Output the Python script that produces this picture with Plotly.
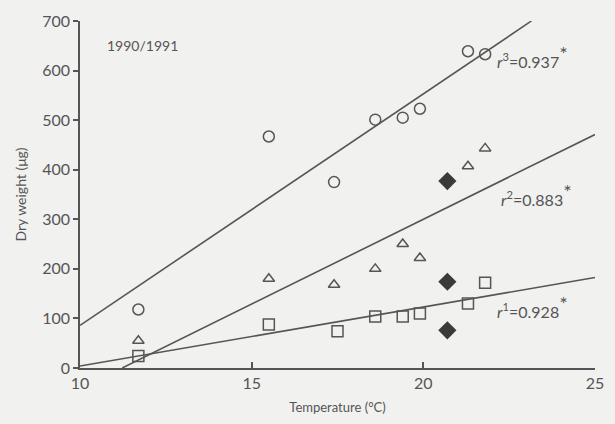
import plotly.graph_objects as go
import numpy as np

# ---- data ----
circ_x = [11.7, 15.5, 17.4, 18.6, 19.4, 19.9, 21.3, 21.8]
circ_y = [118, 467, 375, 501, 505, 523, 639, 633]

tri_x = [11.7, 15.5, 17.4, 18.6, 19.4, 19.9, 21.3, 21.8]
tri_y = [55, 180, 168, 200, 250, 222, 407, 443]

sq_x = [11.7, 15.5, 17.5, 18.6, 19.4, 19.9, 21.3, 21.8]
sq_y = [24, 88, 74, 104, 104, 110, 130, 172]

dia_x = [20.7, 20.7, 20.7]
dia_y = [377, 174, 76]

# regression lines: y = intercept + slope * (x - 10), drawn over x_start..x_end
fit_intercept = [4, -42, 86]
fit_slope = [11.9, 34.2, 46.7]
fit_xstart = [10, 11.23, 10]
fit_xend = [25, 25, 23.15]

star = "<sup><span style='font-size:20px'>*</span></sup>"
labels = ["<i>r</i><sup>1</sup>=0.928" + star,
          "<i>r</i><sup>2</sup>=0.883" + star,
          "<i>r</i><sup>3</sup>=0.937" + star]
label_x = [22.1, 22.2, 22.1]
label_y = [126, 351, 629]

ink = "#555555"
bg = "#f1f1ef"
font = "Lato"

fig = go.Figure()

for b, m, x0, x1 in zip(fit_intercept, fit_slope, fit_xstart, fit_xend):
    xs = np.array([x0, x1])
    fig.add_trace(go.Scatter(x=xs, y=b + m * (xs - 10), mode="lines",
                             line=dict(color=ink, width=1.6),
                             showlegend=False, hoverinfo="skip"))

marker_line = dict(color=ink, width=1.5)
fig.add_trace(go.Scatter(x=circ_x, y=circ_y, mode="markers", cliponaxis=False,
                         marker=dict(symbol="circle-open", size=11, color=ink, line=marker_line),
                         showlegend=False))
fig.add_trace(go.Scatter(x=tri_x, y=tri_y, mode="markers", cliponaxis=False,
                         marker=dict(symbol="triangle-up-open", size=10, color=ink, line=marker_line),
                         showlegend=False))
fig.add_trace(go.Scatter(x=sq_x, y=sq_y, mode="markers", cliponaxis=False,
                         marker=dict(symbol="square-open", size=11, color=ink, line=marker_line),
                         showlegend=False))
fig.add_trace(go.Scatter(x=dia_x, y=dia_y, mode="markers", cliponaxis=False,
                         marker=dict(symbol="diamond", size=14, color="#3a3a3a"),
                         showlegend=False))

for t, x, y in zip(labels, label_x, label_y):
    fig.add_annotation(x=x, y=y, text=t, showarrow=False, xanchor="left", yanchor="middle",
                       font=dict(family=font, size=16, color=ink))

fig.add_annotation(x=10.74, y=651, text="1990/1991", showarrow=False, xanchor="left",
                   yanchor="middle", font=dict(family=font, size=14, color=ink))

fig.update_xaxes(range=[10, 25], tickvals=[10, 15, 20, 25], ticks="inside", ticklen=6,
                 tickcolor=ink, tickwidth=1.5, showline=True, linecolor=ink, linewidth=1.6,
                 showgrid=False, zeroline=False,
                 tickfont=dict(family=font, size=16, color=ink),
                 title=dict(text="Temperature (°C)", font=dict(family=font, size=13, color=ink),
                            standoff=12))
fig.update_yaxes(range=[0, 700], tickvals=list(range(0, 701, 100)), ticks="outside", ticklen=5,
                 tickcolor=ink, tickwidth=1.5, showline=True, linecolor=ink, linewidth=1.6,
                 showgrid=False, zeroline=False,
                 tickfont=dict(family=font, size=16, color=ink),
                 title=dict(text="Dry weight (μg)", font=dict(family=font, size=14, color=ink),
                            standoff=12))

fig.update_layout(width=615, height=424, margin=dict(l=80, r=11, t=20, b=55),
                  paper_bgcolor=bg, plot_bgcolor=bg)

fig.write_html("out.html")
